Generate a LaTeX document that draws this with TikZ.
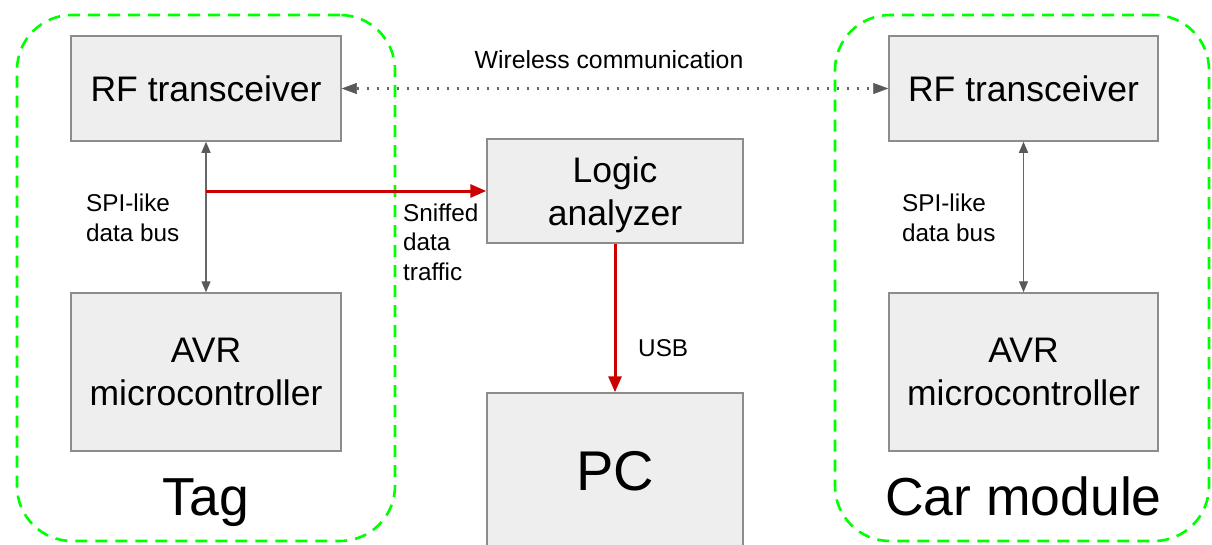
\documentclass[tikz,border=0pt]{standalone}
\usepackage{fontspec}
\setmainfont{Liberation Sans}
\usetikzlibrary{arrows.meta}
\definecolor{boxfill}{HTML}{EEEEEE}
\definecolor{boxline}{HTML}{8C8C8C}
\definecolor{arrgray}{HTML}{666666}
\definecolor{headgray}{HTML}{595959}
\definecolor{redline}{HTML}{CC0000}
\definecolor{grn}{HTML}{00FF00}
\begin{document}
\begin{tikzpicture}[x=1pt,y=-1pt,
  block/.style={draw=boxline,line width=1.5pt,fill=boxfill,inner sep=0pt,align=center,
    font=\fontsize{35.5}{43}\selectfont},
  group/.style={draw=grn,line width=2.6pt,dash pattern=on 12pt off 8pt,rounded corners=55pt,inner sep=0pt},
  biglabel/.style={font=\fontsize{53.5}{58}\selectfont,inner sep=0pt,anchor=base},
  small/.style={font=\fontsize{24.3}{29.5}\selectfont,align=left,inner sep=0pt},
  bus/.style={draw=arrgray,line width=1.3pt,
    {Triangle[length=11pt,width=9pt,color=headgray]}-{Triangle[length=11pt,width=9pt,color=headgray]}},
  sniff/.style={draw=redline,line width=3pt,-{Triangle[length=16pt,width=13pt]}},
  wireless/.style={draw=arrgray,line width=2.2pt,dash pattern=on 2pt off 8pt,
    {Triangle[length=15pt,width=11pt,color=headgray,line width=0.5pt]}-{Triangle[length=15pt,width=11pt,color=headgray,line width=0.5pt]}}
]
\path[use as bounding box] (0,0) rectangle (1212,544);
\clip (0,0) rectangle (1212,544);

% groups
\node[group,minimum width=378pt,minimum height=526pt] (taggrp) at (206,278) {};
\node[group,minimum width=374pt,minimum height=526pt] (cargrp) at (1022,278) {};

% blocks
\node[block,minimum width=270pt,minimum height=105pt] (rf1) at (206,88.5) {RF transceiver};
\node[block,minimum width=270pt,minimum height=158pt] (avr1) at (206,372) {AVR\\microcontroller};
\node[block,minimum width=269pt,minimum height=105pt] (rf2) at (1023.5,88.5) {RF transceiver};
\node[block,minimum width=269pt,minimum height=158pt] (avr2) at (1023.5,372) {AVR\\microcontroller};
\node[block,minimum width=256pt,minimum height=104pt,text depth=0pt] (la) at (615,191) {Logic\\analyzer};
\node[block,minimum width=256pt,minimum height=157pt,font=\fontsize{56}{60}\selectfont] (pc) at (615,471.5) {PC};

% group labels
\node[biglabel] (taglbl) at (206,515) {Tag};
\node[biglabel] (carlbl) at (1023.5,515) {Car module};

% connectors
\draw[bus] (rf1.south) -- (avr1.north);
\draw[bus] (rf2.south) -- (avr2.north);
\coordinate (tap) at (rf1.south |- la.west);
\draw[sniff] (tap) -- (la.west);
\draw[sniff] (la.south) -- (pc.north);
\draw[wireless] (rf1.east) -- (rf2.west);

% labels
\node[small,anchor=west] (spi1) at (86,218) {SPI-like\\data bus};
\node[small,anchor=west] (spi2) at (902,218) {SPI-like\\data bus};
\node[small,anchor=west] (snf) at (403,242) {Sniffed\\data\\traffic};
\node[small,anchor=west] (usb) at (638,348) {USB};
\node[small,font=\fontsize{24.8}{29.5}\selectfont] (wl) at (609,60) {Wireless communication};
\end{tikzpicture}
\end{document}
